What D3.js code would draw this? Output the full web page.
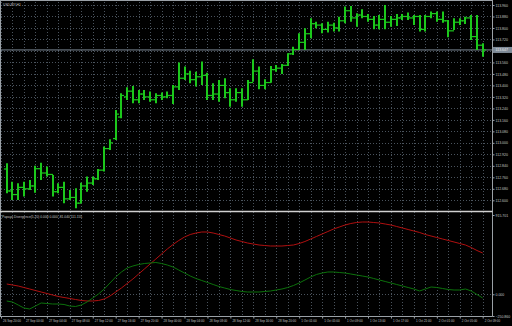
<!DOCTYPE html>
<html>
<head>
<meta charset="utf-8">
<script src="https://cdn.jsdelivr.net/npm/d3@7"></script>
<style>
  body { margin: 0; background: #000; }
  svg { display: block; font-family: "Liberation Sans", Arial, sans-serif; }
</style>
</head>
<body>
<div id="chart"></div>
<script>
const symbolTitle = "USDJPY,H1";
const indicatorTitle = "Papaya Divergence(5,20) 0.000 0.000 -81.040 111.155";

const timeLabels = ["26 Sep 20:00", "27 Sep 00:00", "27 Sep 04:00", "27 Sep 08:00", "27 Sep 12:00",
  "27 Sep 16:00", "27 Sep 20:00", "28 Sep 00:00", "28 Sep 04:00", "28 Sep 08:00", "28 Sep 12:00",
  "28 Sep 16:00", "28 Sep 20:00", "1 Oct 01:00", "1 Oct 05:00", "1 Oct 09:00", "1 Oct 13:00",
  "1 Oct 17:00", "1 Oct 21:00", "2 Oct 01:00", "2 Oct 05:00", "2 Oct 09:00"];

const priceLabels = [113.960, 113.880, 113.800, 113.720, 113.640, 113.560, 113.480, 113.400, 113.320,
  113.240, 113.160, 113.080, 113.000, 112.920, 112.840, 112.760, 112.680, 112.600];
const bidPrice = 113.647;
const indicatorLabels = [915.701, 0, -250.860];

// hourly bars, 26 Sep 21:00 .. 2 Oct 09:00
const opens = [112.818, 112.665, 112.640, 112.690, 112.680, 112.700, 112.820, 112.790, 112.780, 112.660,
  112.690, 112.610, 112.620, 112.580, 112.700, 112.720, 112.750, 112.810, 112.960, 113.030,
  113.180, 113.320, 113.360, 113.300, 113.340, 113.320, 113.300, 113.330, 113.320, 113.330,
  113.390, 113.450, 113.480, 113.440, 113.460, 113.470, 113.330, 113.340, 113.400, 113.350,
  113.300, 113.350, 113.300, 113.420, 113.500, 113.400, 113.420, 113.510, 113.520, 113.540,
  113.620, 113.650, 113.700, 113.760, 113.830, 113.820, 113.790, 113.820, 113.800, 113.850,
  113.920, 113.870, 113.890, 113.880, 113.860, 113.820, 113.860, 113.840, 113.860, 113.870,
  113.880, 113.870, 113.880, 113.790, 113.880, 113.900, 113.860, 113.850, 113.780, 113.840,
  113.850, 113.870, 113.740, 113.680];
const highs = [112.858, 112.730, 112.718, 112.730, 112.742, 112.841, 112.862, 112.835, 112.777, 112.718,
  112.730, 112.672, 112.684, 112.723, 112.765, 112.765, 112.818, 112.974, 113.025, 113.229,
  113.345, 113.387, 113.396, 113.368, 113.368, 113.357, 113.345, 113.350, 113.357, 113.403,
  113.559, 113.531, 113.503, 113.496, 113.566, 113.489, 113.415, 113.438, 113.450, 113.380,
  113.380, 113.380, 113.438, 113.582, 113.531, 113.443, 113.535, 113.542, 113.549, 113.624,
  113.670, 113.763, 113.798, 113.867, 113.844, 113.833, 113.844, 113.837, 113.879, 113.949,
  113.953, 113.902, 113.930, 113.898, 113.884, 113.891, 113.960, 113.884, 113.898, 113.898,
  113.907, 113.891, 113.891, 113.891, 113.914, 113.914, 113.914, 113.856, 113.867, 113.867,
  113.879, 113.891, 113.891, 113.693];
const lows = [112.649, 112.602, 112.602, 112.626, 112.672, 112.653, 112.742, 112.765, 112.626, 112.649,
  112.579, 112.602, 112.544, 112.579, 112.660, 112.707, 112.742, 112.800, 112.951, 113.020,
  113.171, 113.299, 113.276, 113.276, 113.299, 113.287, 113.276, 113.299, 113.310, 113.271,
  113.368, 113.438, 113.415, 113.392, 113.403, 113.299, 113.299, 113.287, 113.310, 113.252,
  113.287, 113.252, 113.299, 113.426, 113.373, 113.373, 113.419, 113.496, 113.480, 113.535,
  113.612, 113.647, 113.647, 113.728, 113.798, 113.763, 113.768, 113.775, 113.775, 113.833,
  113.844, 113.809, 113.867, 113.844, 113.791, 113.791, 113.791, 113.809, 113.814, 113.856,
  113.856, 113.821, 113.775, 113.775, 113.867, 113.844, 113.837, 113.735, 113.786, 113.821,
  113.828, 113.716, 113.647, 113.600];
const closes = [112.665, 112.640, 112.690, 112.680, 112.700, 112.820, 112.790, 112.780, 112.660, 112.690,
  112.610, 112.620, 112.580, 112.700, 112.720, 112.750, 112.810, 112.960, 113.000, 113.200,
  113.330, 113.360, 113.300, 113.340, 113.320, 113.300, 113.330, 113.320, 113.330, 113.390,
  113.450, 113.480, 113.440, 113.460, 113.470, 113.330, 113.340, 113.400, 113.350, 113.300,
  113.350, 113.300, 113.420, 113.500, 113.400, 113.420, 113.510, 113.520, 113.540, 113.620,
  113.650, 113.700, 113.760, 113.830, 113.820, 113.790, 113.820, 113.800, 113.850, 113.920,
  113.870, 113.890, 113.880, 113.860, 113.820, 113.860, 113.840, 113.860, 113.870, 113.880,
  113.870, 113.880, 113.790, 113.880, 113.900, 113.860, 113.850, 113.780, 113.840, 113.850,
  113.870, 113.740, 113.680, 113.647];

const redLine = [118.7, 107.2, 95.6, 78.3, 61.0, 43.7, 26.3, 9.0, -8.3, -25.6,
  -37.1, -48.7, -60.3, -71.8, -77.6, -77.6, -71.8, -54.5, -19.9, 26.3,
  72.5, 124.5, 176.5, 234.2, 292.0, 349.7, 407.5, 465.2, 523.0, 575.0,
  621.2, 661.6, 690.4, 707.8, 719.3, 719.3, 707.8, 690.4, 673.1, 650.0,
  626.9, 609.6, 592.3, 580.7, 569.2, 563.4, 557.6, 557.6, 557.6, 563.4,
  569.2, 586.5, 609.6, 638.5, 667.3, 696.2, 725.1, 754.0, 777.1, 800.2,
  817.5, 829.0, 834.8, 834.8, 829.0, 823.3, 811.7, 800.2, 782.9, 765.5,
  748.2, 730.9, 713.6, 690.4, 673.1, 655.8, 638.5, 621.2, 603.9, 586.5,
  569.2, 540.3, 505.7, 476.8];
const greenLine = [-77.6, -89.2, -123.8, -158.5, -170.0, -135.4, -100.7, -106.5, -112.3, -112.3,
  -118.0, -135.4, -141.1, -123.8, -89.2, -43.0, 3.2, 61.0, 130.3, 199.6,
  257.3, 303.5, 326.6, 343.9, 355.5, 361.3, 367.0, 355.5, 338.2, 315.1,
  280.4, 245.8, 211.1, 182.3, 159.2, 136.1, 113.0, 89.9, 72.5, 55.2,
  43.7, 32.2, 26.3, 26.3, 26.3, 32.2, 37.9, 49.4, 61.0, 78.3,
  101.4, 130.3, 164.9, 199.6, 228.5, 245.8, 257.3, 257.3, 251.6, 245.8,
  234.2, 222.7, 211.1, 199.6, 182.3, 164.9, 147.6, 130.3, 113.0, 95.6,
  78.3, 61.0, 37.9, 61.0, 84.1, 78.3, 66.8, 55.2, 49.4, 49.4,
  61.0, 37.9, -2.6, -43.0];

const width = 512;
const height = 326;
const axisX = 492.5;
const sepY = 211.5;
const bottomY = 316.5;
const textColor = "#c4c4c4";

const svg = d3.select("#chart")
  .append("svg")
  .attr("width", width)
  .attr("height", height);

svg.append("rect").attr("width", width).attr("height", height).attr("fill", "#000");

const x = d3.scaleLinear().domain([0, 84]).range([1, 482.7]);
const y = d3.scaleLinear().domain([112.600, 113.960]).range([200.3, 5]);
const yInd = d3.scaleLinear().domain([-250.860, 915.701]).range([316, 215]);

// browsers clamp tiny font sizes, so draw text at 4x and scale it down
const k = 4;
function tiny(sel, size) {
  sel.each(function() {
    const t = d3.select(this);
    const tx = +t.attr("x") || 0;
    const ty = +t.attr("y") || 0;
    t.attr("x", tx * k).attr("y", ty * k)
      .attr("font-size", size * k)
      .attr("transform", "scale(" + (1 / k) + ")");
  });
}

const grid = "#4a535d";

// vertical grid every 2 bars
svg.append("g").selectAll("line")
  .data(d3.range(0, 85, 2))
  .enter().append("line")
    .attr("x1", d => Math.round(x(d)) + 0.5)
    .attr("x2", d => Math.round(x(d)) + 0.5)
    .attr("y1", 2)
    .attr("y2", bottomY)
    .attr("stroke", grid)
    .attr("stroke-dasharray", "1,2");

// horizontal grid at price labels
svg.append("g").selectAll("line")
  .data(priceLabels)
  .enter().append("line")
    .attr("x1", 1)
    .attr("x2", axisX)
    .attr("y1", d => Math.round(y(d)) + 0.5)
    .attr("y2", d => Math.round(y(d)) + 0.5)
    .attr("stroke", grid)
    .attr("stroke-dasharray", "1,2");

// zero level of the indicator
svg.append("line")
  .attr("x1", 1).attr("x2", axisX)
  .attr("y1", Math.round(yInd(0)) + 0.5).attr("y2", Math.round(yInd(0)) + 0.5)
  .attr("stroke", grid)
  .attr("stroke-dasharray", "1,2");

// bid line
svg.append("line")
  .attr("x1", 1).attr("x2", axisX)
  .attr("y1", y(bidPrice)).attr("y2", y(bidPrice))
  .attr("stroke", "#7d8996")
  .attr("stroke-width", 1);

// OHLC bars
const bars = opens.map((o, i) => ({ i: i + 1, o: o, h: highs[i], l: lows[i], c: closes[i] }));
const barColor = "#1cc81c";
const bg = svg.append("g").attr("stroke", barColor);
bars.forEach(d => {
  const bx = Math.round(x(d.i));
  bg.append("line").attr("x1", bx).attr("x2", bx)
    .attr("y1", y(d.h)).attr("y2", y(d.l)).attr("stroke-width", 2);
  bg.append("line").attr("x1", bx - 3).attr("x2", bx)
    .attr("y1", y(d.o)).attr("y2", y(d.o)).attr("stroke-width", 1.2);
  bg.append("line").attr("x1", bx).attr("x2", bx + 3)
    .attr("y1", y(d.c)).attr("y2", y(d.c)).attr("stroke-width", 1.2);
});

// indicator lines
const line = d3.line()
  .x((v, i) => x(i + 1))
  .y(v => yInd(v));

svg.append("path").datum(redLine)
  .attr("d", line)
  .attr("fill", "none")
  .attr("stroke", "#b01010")
  .attr("stroke-width", 1);

svg.append("path").datum(greenLine)
  .attr("d", line)
  .attr("fill", "none")
  .attr("stroke", "#0c720c")
  .attr("stroke-width", 1);

// frame
const frame = "#9aa0a6";
svg.append("line").attr("x1", 0).attr("x2", axisX).attr("y1", 0.5).attr("y2", 0.5).attr("stroke", frame);
svg.append("line").attr("x1", 0.5).attr("x2", 0.5).attr("y1", 0).attr("y2", bottomY).attr("stroke", frame);
svg.append("line").attr("x1", axisX).attr("x2", axisX).attr("y1", 0).attr("y2", bottomY).attr("stroke", frame);
svg.append("line").attr("x1", 0).attr("x2", axisX).attr("y1", sepY).attr("y2", sepY)
  .attr("stroke", "#d0d0d0").attr("stroke-width", 1.5);
svg.append("line").attr("x1", 0).attr("x2", axisX).attr("y1", bottomY).attr("y2", bottomY).attr("stroke", frame);

// price axis
const yAxis = d3.axisRight(y)
  .tickValues(priceLabels)
  .tickSize(2)
  .tickFormat(d3.format(".3f"));
const ya = svg.append("g")
  .attr("transform", "translate(" + axisX + ",0)")
  .call(yAxis);

// indicator axis
const indAxis = d3.axisRight(yInd)
  .tickValues(indicatorLabels)
  .tickSize(2)
  .tickFormat(d3.format(".3f"));
const ia = svg.append("g")
  .attr("transform", "translate(" + axisX + ",0)")
  .call(indAxis);

// time axis
const xAxis = d3.axisBottom(x)
  .tickValues(d3.range(0, 85, 4))
  .tickSize(2)
  .tickFormat((d, i) => timeLabels[i]);
const xa = svg.append("g")
  .attr("transform", "translate(0," + bottomY + ")")
  .call(xAxis);

[ya, ia, xa].forEach(g => {
  g.select(".domain").remove();
  g.selectAll(".tick line").attr("stroke", frame);
  g.selectAll("text")
    .attr("fill", textColor)
    .attr("font-family", "Liberation Sans, Arial, sans-serif");
});
ya.selectAll("text").attr("x", 3);
ia.selectAll("text").attr("x", 3);
tiny(ya.selectAll("text"), 3.5);
tiny(ia.selectAll("text"), 3.5);
xa.selectAll("text").attr("text-anchor", "start").attr("x", 1.5).attr("y", 3.2);
tiny(xa.selectAll("text"), 3.0);

// bid price box
svg.append("rect")
  .attr("x", axisX + 0.5).attr("y", y(bidPrice) - 3)
  .attr("width", width - axisX).attr("height", 6)
  .attr("fill", "#7f8b98");
svg.append("text")
  .attr("x", axisX + 3).attr("y", y(bidPrice))
  .attr("dy", "0.35em")
  .attr("fill", "#f0f0f0")
  .text(d3.format(".3f")(bidPrice))
  .call(tiny, 3.5);

// titles
svg.append("text").attr("x", 3).attr("y", 5.5)
  .attr("fill", textColor).text(symbolTitle)
  .call(tiny, 3.3);
svg.append("text").attr("x", 2).attr("y", 217.5)
  .attr("fill", textColor).text(indicatorTitle)
  .call(tiny, 3.3);
</script>
</body>
</html>
